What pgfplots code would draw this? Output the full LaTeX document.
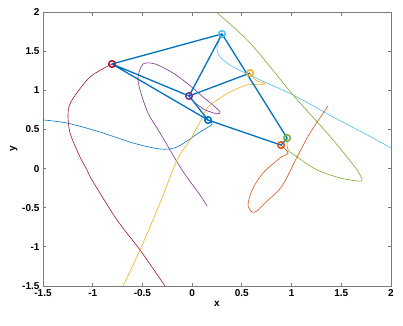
\documentclass[border=0pt]{standalone}
\usepackage{fontspec}
\setmainfont{Liberation Sans}
\usepackage{pgfplots}
\pgfplotsset{compat=1.18}
\definecolor{mblue}{HTML}{0072BD}
\definecolor{morange}{HTML}{D95319}
\definecolor{myellow}{HTML}{EDB120}
\definecolor{mpurple}{HTML}{7E2F8E}
\definecolor{mgreen}{HTML}{77AC30}
\definecolor{mlblue}{HTML}{4DBEEE}
\definecolor{mred}{HTML}{A2142F}
\definecolor{axgray}{HTML}{7A7A7A}
\begin{document}
\begin{tikzpicture}
\useasboundingbox (-43pt,-39pt) rectangle (360pt,286pt);
\begin{axis}[
  at={(0,0)}, anchor=south west,
  scale only axis, width=348pt, height=274pt,
  xmin=-1.5, xmax=2, ymin=-1.5, ymax=2,
  xtick={-1.5,-1,-0.5,0,0.5,1,1.5,2},
  ytick={-1.5,-1,-0.5,0,0.5,1,1.5,2},
  xticklabels={-1.5,-1,-0.5,0,0.5,1,1.5,2},
  yticklabels={-1.5,-1,-0.5,0,0.5,1,1.5,2},
  tick align=inside, major tick length=3.5pt,
  axis line style={draw=axgray, line width=0.9pt},
  every tick/.style={draw=axgray, line width=0.9pt},
  tick label style={font=\fontsize{10}{12}\selectfont\bfseries, text=black},
  label style={font=\fontsize{10}{12}\selectfont\bfseries},
  xlabel={x}, ylabel={y},
  xlabel style={yshift=2pt},
  ylabel style={yshift=-2pt},
  clip=true,
  every axis plot/.append style={line join=round},
]
% trajectories
\addplot[mred, line width=0.6pt, smooth] coordinates {
(-0.806,1.336) (-1.027,1.17) (-1.208,0.876) (-1.248,0.71) (-1.228,0.455)
(-1.128,0.148) (-1.057,-0.018) (-1.007,-0.146) (-0.756,-0.656) (-0.524,-1.04) (-0.273,-1.5)};
\addplot[mblue, line width=0.6pt, smooth] coordinates {
(-1.5,0.621) (-1.259,0.582) (-0.927,0.467) (-0.595,0.327) (-0.323,0.25)
(-0.152,0.276) (0.079,0.467) (0.18,0.544) (0.20,0.58) (0.16,0.62)};
\addplot[mpurple, line width=0.6pt, smooth] coordinates {
(0.150,-0.478) (0.079,-0.337) (-0.102,-0.018) (-0.323,0.455) (-0.444,0.71)
(-0.524,1.004) (-0.544,1.17) (-0.494,1.336) (-0.373,1.336) (-0.192,1.221)
(-0.041,1.08) (0.110,0.914) (0.22,0.80) (0.281,0.723) (0.25,0.70) (0.13,0.75)
(0.03,0.84) (-0.031,0.927)};
\addplot[myellow, line width=0.6pt, smooth] coordinates {
(-0.695,-1.5) (-0.524,-1.04) (-0.323,-0.439) (-0.152,0.110) (-0.021,0.365)
(0.079,0.595) (0.150,0.774) (0.25,0.876) (0.381,0.978) (0.552,1.068)
(0.733,1.08) (0.64,1.13) (0.583,1.22)};
\addplot[mlblue, line width=0.6pt, smooth] coordinates {
(0.30,1.72) (0.25,1.553) (0.281,1.425) (0.411,1.30) (0.683,1.132)
(1.015,0.94) (1.418,0.659) (1.76,0.43) (2.0,0.263)};
\addplot[mgreen, line width=0.6pt, smooth] coordinates {
(0.24,2.0) (0.583,1.604) (1.015,0.94) (1.357,0.455) (1.558,0.148)
(1.659,-0.018) (1.71,-0.146) (1.659,-0.158) (1.488,-0.12) (1.257,-0.018)
(1.055,0.148) (0.965,0.237) (0.955,0.327) (0.955,0.39)};
\addplot[morange, line width=0.6pt, smooth] coordinates {
(0.894,0.30) (0.965,0.199) (0.884,0.135) (0.713,-0.056) (0.603,-0.273)
(0.562,-0.465) (0.603,-0.554) (0.653,-0.541) (0.733,-0.439) (0.904,-0.222)
(1.055,0.148) (1.186,0.455) (1.367,0.80)};
% linkage
\addplot[mblue, line width=1.3pt] coordinates {
(0.16,0.62) (-0.806,1.336) (0.30,1.72) (-0.031,0.927) (-0.806,1.336)};
\addplot[mblue, line width=1.3pt] coordinates {
(0.583,1.22) (-0.031,0.927) (0.16,0.62) (0.894,0.30) (0.955,0.39) (0.30,1.72)};
% markers
\addplot[only marks, mark=o, mark size=3.3pt, line width=1.5pt, mred] coordinates {(-0.806,1.336)};
\addplot[only marks, mark=o, mark size=3.3pt, line width=1.5pt, mlblue] coordinates {(0.30,1.72)};
\addplot[only marks, mark=o, mark size=3.3pt, line width=1.5pt, mpurple] coordinates {(-0.031,0.927)};
\addplot[only marks, mark=o, mark size=3.3pt, line width=1.5pt, myellow] coordinates {(0.583,1.22)};
\addplot[only marks, mark=o, mark size=3.3pt, line width=1.5pt, mblue] coordinates {(0.16,0.62)};
\addplot[only marks, mark=o, mark size=3.3pt, line width=1.5pt, mgreen] coordinates {(0.955,0.39)};
\addplot[only marks, mark=o, mark size=3.3pt, line width=1.5pt, morange] coordinates {(0.894,0.30)};
\end{axis}
\end{tikzpicture}
\end{document}
